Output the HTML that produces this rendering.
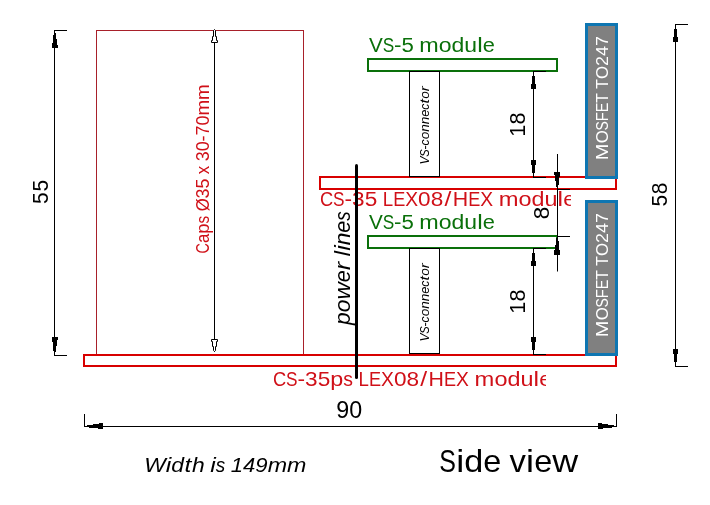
<!DOCTYPE html>
<html><head><meta charset="utf-8"><title>Side view</title>
<style>
html,body{margin:0;padding:0;background:#fff;}
body{width:710px;height:505px;overflow:hidden;}
svg{display:block;font-family:"Liberation Sans",sans-serif;will-change:transform;}
</style></head>
<body>
<svg width="710" height="505" viewBox="0 0 710 505">
<rect x="96.5" y="30.5" width="207" height="324" fill="none" stroke="#a8202a" stroke-width="1"/>
<line x1="214.5" y1="31" x2="214.5" y2="352" stroke="#000" stroke-width="1"/>
<g font-size="17.5" fill="#d01018" text-anchor="middle"><text transform="translate(208.6,248.26) rotate(-90) scale(0.825,1)">C</text><text transform="translate(208.6,238.37) rotate(-90) scale(0.962,1)">a</text><text transform="translate(208.6,228.55) rotate(-90) scale(1.055,1)">p</text><text transform="translate(208.6,219.60) rotate(-90) scale(0.874,1)">s</text><text transform="translate(208.6,204.88) rotate(-90) scale(0.951,1)">Ø</text><text transform="translate(208.6,193.45) rotate(-90) scale(1.019,1)">3</text><text transform="translate(208.6,183.53) rotate(-90) scale(1.019,1)">5</text><text transform="translate(208.6,169.92) rotate(-90) scale(0.968,1)">x</text><text transform="translate(208.6,156.31) rotate(-90) scale(1.019,1)">3</text><text transform="translate(208.6,146.40) rotate(-90) scale(1.019,1)">0</text><text transform="translate(208.6,138.45) rotate(-90) scale(1.027,1)">-</text><text transform="translate(208.6,130.50) rotate(-90) scale(1.019,1)">7</text><text transform="translate(208.6,120.58) rotate(-90) scale(1.019,1)">0</text><text transform="translate(208.6,107.81) rotate(-90) scale(1.072,1)">m</text><text transform="translate(208.6,92.19) rotate(-90) scale(1.072,1)">m</text></g>
<rect x="84" y="355" width="532" height="11" fill="none" stroke="#d80000" stroke-width="2"/>
<rect x="320" y="177" width="296" height="12" fill="none" stroke="#d80000" stroke-width="2"/>
<clipPath id="c1"><rect x="300" y="185" width="271" height="30"/></clipPath>
<clipPath id="c2"><rect x="260" y="365" width="286" height="30"/></clipPath>
<g clip-path="url(#c1)"><g font-size="21" fill="#d01018" text-anchor="middle"><text transform="translate(326.55,206) scale(0.870,1)">C</text><text transform="translate(338.83,206) scale(0.820,1)">S</text><text transform="translate(348.30,206) scale(1.083,1)">-</text><text transform="translate(358.36,206) scale(1.075,1)">3</text><text transform="translate(370.91,206) scale(1.075,1)">5</text><text transform="translate(387.98,206) scale(0.890,1)">L</text><text transform="translate(399.22,206) scale(0.862,1)">E</text><text transform="translate(411.68,206) scale(0.917,1)">X</text><text transform="translate(424.38,206) scale(1.075,1)">0</text><text transform="translate(436.93,206) scale(1.075,1)">8</text><text transform="translate(447.99,206) scale(1.180,1)">/</text><text transform="translate(460.47,206) scale(1.017,1)">H</text><text transform="translate(474.22,206) scale(0.862,1)">E</text><text transform="translate(486.69,206) scale(0.917,1)">X</text><text transform="translate(508.60,206) scale(1.131,1)">m</text><text transform="translate(525.01,206) scale(1.117,1)">o</text><text transform="translate(538.03,206) scale(1.113,1)">d</text><text transform="translate(551.03,206) scale(1.113,1)">u</text><text transform="translate(560.36,206) scale(1.180,1)">l</text><text transform="translate(569.36,206) scale(1.056,1)">e</text></g></g>
<g clip-path="url(#c2)"><g font-size="21" fill="#d01018" text-anchor="middle"><text transform="translate(279.55,386) scale(0.871,1)">C</text><text transform="translate(291.84,386) scale(0.820,1)">S</text><text transform="translate(301.32,386) scale(1.084,1)">-</text><text transform="translate(311.39,386) scale(1.076,1)">3</text><text transform="translate(323.96,386) scale(1.076,1)">5</text><text transform="translate(336.74,386) scale(1.114,1)">p</text><text transform="translate(348.09,386) scale(0.923,1)">s</text><text transform="translate(363.74,386) scale(0.891,1)">L</text><text transform="translate(374.99,386) scale(0.863,1)">E</text><text transform="translate(387.47,386) scale(0.918,1)">X</text><text transform="translate(400.18,386) scale(1.076,1)">0</text><text transform="translate(412.74,386) scale(1.076,1)">8</text><text transform="translate(423.81,386) scale(1.180,1)">/</text><text transform="translate(436.31,386) scale(1.018,1)">H</text><text transform="translate(450.07,386) scale(0.863,1)">E</text><text transform="translate(462.55,386) scale(0.918,1)">X</text><text transform="translate(484.48,386) scale(1.132,1)">m</text><text transform="translate(500.91,386) scale(1.118,1)">o</text><text transform="translate(513.95,386) scale(1.114,1)">d</text><text transform="translate(526.95,386) scale(1.114,1)">u</text><text transform="translate(536.30,386) scale(1.180,1)">l</text><text transform="translate(545.30,386) scale(1.057,1)">e</text></g></g>
<line x1="54.5" y1="30" x2="54.5" y2="356" stroke="#000" stroke-width="1"/>
<line x1="54" y1="30.5" x2="67" y2="30.5" stroke="#000" stroke-width="1"/>
<line x1="54" y1="355.5" x2="67" y2="355.5" stroke="#000" stroke-width="1"/>
<g font-size="22.5" fill="#000" text-anchor="middle"><text transform="translate(47.6,198.10) rotate(-90) scale(0.934,1)">5</text><text transform="translate(47.6,185.76) rotate(-90) scale(0.934,1)">5</text></g>
<rect x="368" y="59" width="189" height="12" fill="none" stroke="#0a700a" stroke-width="2"/>
<g font-size="21" fill="#0a700a" text-anchor="middle"><text transform="translate(375.90,52) scale(0.986,1)">V</text><text transform="translate(388.39,52) scale(0.820,1)">S</text><text transform="translate(397.71,52) scale(1.065,1)">-</text><text transform="translate(407.61,52) scale(1.057,1)">5</text><text transform="translate(429.01,52) scale(1.112,1)">m</text><text transform="translate(445.15,52) scale(1.099,1)">o</text><text transform="translate(457.96,52) scale(1.095,1)">d</text><text transform="translate(470.74,52) scale(1.095,1)">u</text><text transform="translate(479.92,52) scale(1.180,1)">l</text><text transform="translate(488.77,52) scale(1.038,1)">e</text></g>
<rect x="409.5" y="71.5" width="30" height="105" fill="#fff" stroke="#000" stroke-width="1"/>
<g font-size="13.5" fill="#000" text-anchor="middle" font-style="italic"><text transform="translate(429,160.41) rotate(-90) scale(0.901,1)">V</text><text transform="translate(429,153.07) rotate(-90) scale(0.820,1)">S</text><text transform="translate(429,147.59) rotate(-90) scale(0.974,1)">-</text><text transform="translate(429,142.37) rotate(-90) scale(0.897,1)">c</text><text transform="translate(429,135.57) rotate(-90) scale(1.005,1)">o</text><text transform="translate(429,128.04) rotate(-90) scale(1.001,1)">n</text><text transform="translate(429,120.53) rotate(-90) scale(1.001,1)">n</text><text transform="translate(429,113.21) rotate(-90) scale(0.949,1)">e</text><text transform="translate(429,106.61) rotate(-90) scale(0.897,1)">c</text><text transform="translate(429,101.19) rotate(-90) scale(1.180,1)">t</text><text transform="translate(429,95.02) rotate(-90) scale(1.005,1)">o</text><text transform="translate(429,88.75) rotate(-90) scale(1.111,1)">r</text></g>
<rect x="586.5" y="24.5" width="30" height="153" fill="#808080" stroke="#0e76b2" stroke-width="3"/>
<g font-size="17" fill="#fff" text-anchor="middle"><text transform="translate(607.8,151.79) rotate(-90) scale(1.180,1)">M</text><text transform="translate(607.8,136.86) rotate(-90) scale(0.985,1)">O</text><text transform="translate(607.8,125.83) rotate(-90) scale(0.820,1)">S</text><text transform="translate(607.8,116.80) rotate(-90) scale(0.870,1)">F</text><text transform="translate(607.8,107.48) rotate(-90) scale(0.847,1)">E</text><text transform="translate(607.8,97.89) rotate(-90) scale(0.923,1)">T</text><text transform="translate(607.8,83.85) rotate(-90) scale(0.923,1)">T</text><text transform="translate(607.8,72.55) rotate(-90) scale(0.985,1)">O</text><text transform="translate(607.8,61.04) rotate(-90) scale(1.055,1)">2</text><text transform="translate(607.8,51.06) rotate(-90) scale(1.055,1)">4</text><text transform="translate(607.8,41.09) rotate(-90) scale(1.055,1)">7</text></g>
<line x1="533.5" y1="71" x2="533.5" y2="177" stroke="#000" stroke-width="1"/>
<line x1="533" y1="71.5" x2="546" y2="71.5" stroke="#000" stroke-width="1"/>
<line x1="533" y1="177.5" x2="546" y2="177.5" stroke="#000" stroke-width="1"/>
<g font-size="22.5" fill="#000" text-anchor="middle"><text transform="translate(524.9,130.75) rotate(-90) scale(0.957,1)">1</text><text transform="translate(524.9,118.45) rotate(-90) scale(0.957,1)">8</text></g>
<rect x="368" y="236" width="189" height="12" fill="none" stroke="#0a700a" stroke-width="2"/>
<g font-size="21" fill="#0a700a" text-anchor="middle"><text transform="translate(375.90,229) scale(0.986,1)">V</text><text transform="translate(388.39,229) scale(0.820,1)">S</text><text transform="translate(397.71,229) scale(1.065,1)">-</text><text transform="translate(407.61,229) scale(1.057,1)">5</text><text transform="translate(429.01,229) scale(1.112,1)">m</text><text transform="translate(445.15,229) scale(1.099,1)">o</text><text transform="translate(457.96,229) scale(1.095,1)">d</text><text transform="translate(470.74,229) scale(1.095,1)">u</text><text transform="translate(479.92,229) scale(1.180,1)">l</text><text transform="translate(488.77,229) scale(1.038,1)">e</text></g>
<rect x="409.5" y="248.5" width="30" height="105" fill="#fff" stroke="#000" stroke-width="1"/>
<g font-size="13.5" fill="#000" text-anchor="middle" font-style="italic"><text transform="translate(429,337.41) rotate(-90) scale(0.901,1)">V</text><text transform="translate(429,330.07) rotate(-90) scale(0.820,1)">S</text><text transform="translate(429,324.59) rotate(-90) scale(0.974,1)">-</text><text transform="translate(429,319.37) rotate(-90) scale(0.897,1)">c</text><text transform="translate(429,312.57) rotate(-90) scale(1.005,1)">o</text><text transform="translate(429,305.04) rotate(-90) scale(1.001,1)">n</text><text transform="translate(429,297.53) rotate(-90) scale(1.001,1)">n</text><text transform="translate(429,290.21) rotate(-90) scale(0.949,1)">e</text><text transform="translate(429,283.61) rotate(-90) scale(0.897,1)">c</text><text transform="translate(429,278.19) rotate(-90) scale(1.180,1)">t</text><text transform="translate(429,272.02) rotate(-90) scale(1.005,1)">o</text><text transform="translate(429,265.75) rotate(-90) scale(1.111,1)">r</text></g>
<rect x="586.5" y="201.5" width="30" height="153" fill="#808080" stroke="#0e76b2" stroke-width="3"/>
<g font-size="17" fill="#fff" text-anchor="middle"><text transform="translate(607.8,328.79) rotate(-90) scale(1.180,1)">M</text><text transform="translate(607.8,313.86) rotate(-90) scale(0.985,1)">O</text><text transform="translate(607.8,302.83) rotate(-90) scale(0.820,1)">S</text><text transform="translate(607.8,293.80) rotate(-90) scale(0.870,1)">F</text><text transform="translate(607.8,284.48) rotate(-90) scale(0.847,1)">E</text><text transform="translate(607.8,274.89) rotate(-90) scale(0.923,1)">T</text><text transform="translate(607.8,260.85) rotate(-90) scale(0.923,1)">T</text><text transform="translate(607.8,249.55) rotate(-90) scale(0.985,1)">O</text><text transform="translate(607.8,238.04) rotate(-90) scale(1.055,1)">2</text><text transform="translate(607.8,228.06) rotate(-90) scale(1.055,1)">4</text><text transform="translate(607.8,218.09) rotate(-90) scale(1.055,1)">7</text></g>
<line x1="533.5" y1="248" x2="533.5" y2="354" stroke="#000" stroke-width="1"/>
<line x1="533" y1="248.5" x2="546" y2="248.5" stroke="#000" stroke-width="1"/>
<line x1="533" y1="354.5" x2="546" y2="354.5" stroke="#000" stroke-width="1"/>
<g font-size="22.5" fill="#000" text-anchor="middle"><text transform="translate(524.9,307.75) rotate(-90) scale(0.957,1)">1</text><text transform="translate(524.9,295.45) rotate(-90) scale(0.957,1)">8</text></g>
<line x1="557.5" y1="154" x2="557.5" y2="271.5" stroke="#000" stroke-width="1"/>
<line x1="557" y1="189.5" x2="570" y2="189.5" stroke="#000" stroke-width="1"/>
<line x1="557" y1="236.5" x2="570" y2="236.5" stroke="#000" stroke-width="1"/>
<text transform="translate(549.3,219.3) rotate(-90)" font-size="22.5" fill="#000">8</text>
<line x1="675.5" y1="24" x2="675.5" y2="367" stroke="#000" stroke-width="1"/>
<line x1="675" y1="24.5" x2="688" y2="24.5" stroke="#000" stroke-width="1"/>
<line x1="675" y1="366.5" x2="688" y2="366.5" stroke="#000" stroke-width="1"/>
<g font-size="22.5" fill="#000" text-anchor="middle"><text transform="translate(667,200.62) rotate(-90) scale(0.930,1)">5</text><text transform="translate(667,188.31) rotate(-90) scale(0.930,1)">8</text></g>
<line x1="84" y1="426.5" x2="617" y2="426.5" stroke="#000" stroke-width="1"/>
<line x1="84.5" y1="414" x2="84.5" y2="427" stroke="#000" stroke-width="1"/>
<line x1="616.5" y1="414" x2="616.5" y2="427" stroke="#000" stroke-width="1"/>
<g font-size="23" fill="#000" text-anchor="middle"><text transform="translate(342.68,417.6) scale(1.012,1)">9</text><text transform="translate(355.83,417.6) scale(1.012,1)">0</text></g>
<line x1="356.5" y1="165.5" x2="356.5" y2="377.5" stroke="#000" stroke-width="3" stroke-linecap="round"/>
<g font-size="22" fill="#000" text-anchor="middle" font-style="italic"><text transform="translate(349.5,318.61) rotate(-90) scale(1.036,1)">p</text><text transform="translate(349.5,305.91) rotate(-90) scale(1.040,1)">o</text><text transform="translate(349.5,290.92) rotate(-90) scale(1.086,1)">w</text><text transform="translate(349.5,276.28) rotate(-90) scale(0.982,1)">e</text><text transform="translate(349.5,266.06) rotate(-90) scale(1.150,1)">r</text><text transform="translate(349.5,253.63) rotate(-90) scale(1.131,1)">l</text><text transform="translate(349.5,248.11) rotate(-90) scale(1.131,1)">i</text><text transform="translate(349.5,239.01) rotate(-90) scale(1.036,1)">n</text><text transform="translate(349.5,226.66) rotate(-90) scale(0.982,1)">e</text><text transform="translate(349.5,215.93) rotate(-90) scale(0.858,1)">s</text></g>
<g font-size="21" fill="#000" text-anchor="middle" font-style="italic"><text transform="translate(154.94,471.5) scale(1.088,1)">W</text><text transform="translate(168.50,471.5) scale(1.180,1)">i</text><text transform="translate(177.63,471.5) scale(1.089,1)">d</text><text transform="translate(188.05,471.5) scale(1.180,1)">t</text><text transform="translate(198.47,471.5) scale(1.089,1)">h</text><text transform="translate(213.07,471.5) scale(1.180,1)">i</text><text transform="translate(220.58,471.5) scale(0.902,1)">s</text><text transform="translate(236.94,471.5) scale(1.052,1)">1</text><text transform="translate(249.22,471.5) scale(1.052,1)">4</text><text transform="translate(261.50,471.5) scale(1.052,1)">9</text><text transform="translate(277.32,471.5) scale(1.107,1)">m</text><text transform="translate(296.68,471.5) scale(1.107,1)">m</text></g>
<g font-size="30.5" fill="#000" text-anchor="middle"><text transform="translate(447.71,471.5) scale(0.820,1)">S</text><text transform="translate(460.16,471.5) scale(1.180,1)">i</text><text transform="translate(473.82,471.5) scale(1.121,1)">d</text><text transform="translate(492.35,471.5) scale(1.063,1)">e</text><text transform="translate(517.74,471.5) scale(1.074,1)">v</text><text transform="translate(530.07,471.5) scale(1.180,1)">i</text><text transform="translate(543.23,471.5) scale(1.063,1)">e</text><text transform="translate(565.20,471.5) scale(1.176,1)">w</text></g>
<g shape-rendering="crispEdges" fill="#000"><rect x="54" y="33" width="2" height="2"/><rect x="53" y="35" width="3" height="4"/><rect x="53" y="39" width="4" height="4"/><rect x="52" y="43" width="5" height="2"/><rect x="52" y="45" width="6" height="3"/><rect x="52" y="337" width="6" height="3"/><rect x="52" y="340" width="5" height="2"/><rect x="53" y="342" width="4" height="4"/><rect x="53" y="346" width="3" height="5"/><rect x="54" y="351" width="2" height="1"/><rect x="532" y="76" width="3" height="8"/><rect x="531" y="84" width="5" height="5"/><rect x="531" y="160" width="5" height="5"/><rect x="532" y="165" width="3" height="8"/><rect x="532" y="253" width="3" height="8"/><rect x="531" y="261" width="5" height="5"/><rect x="531" y="337" width="5" height="5"/><rect x="532" y="342" width="3" height="8"/><rect x="554" y="172" width="6" height="3"/><rect x="555" y="175" width="5" height="2"/><rect x="555" y="177" width="4" height="4"/><rect x="556" y="181" width="3" height="4"/><rect x="556" y="185" width="2" height="2"/><rect x="556" y="238" width="2" height="3"/><rect x="556" y="241" width="3" height="4"/><rect x="555" y="245" width="4" height="5"/><rect x="554" y="250" width="6" height="5"/><rect x="674" y="29" width="3" height="8"/><rect x="673" y="37" width="5" height="5"/><rect x="673" y="349" width="5" height="5"/><rect x="674" y="354" width="3" height="8"/><rect x="87" y="425" width="2" height="2"/><rect x="89" y="425" width="4" height="3"/><rect x="93" y="424" width="5" height="4"/><rect x="98" y="424" width="1" height="5"/><rect x="99" y="423" width="4" height="6"/><rect x="598" y="423" width="4" height="6"/><rect x="602" y="424" width="1" height="5"/><rect x="603" y="424" width="5" height="4"/><rect x="608" y="425" width="4" height="3"/><rect x="612" y="425" width="2" height="2"/></g>
<path d="M214.5,29.5 L215.5,30.5 L215.5,36.5 L216.5,36.5 L216.5,40.5 L217.5,40.5 L217.5,42.5 L211.5,42.5 L211.5,40.5 L212.5,40.5 L212.5,36.5 L213.5,36.5 L213.5,30.5 Z" fill="#fff" stroke="#000" stroke-width="1"/>
<path d="M214.5,351.5 L215.5,350.5 L215.5,346.5 L216.5,346.5 L216.5,341.5 L217.5,341.5 L217.5,339.5 L211.5,339.5 L211.5,341.5 L212.5,341.5 L212.5,346.5 L213.5,346.5 L213.5,350.5 Z" fill="#fff" stroke="#000" stroke-width="1"/>
</svg>
</body></html>
